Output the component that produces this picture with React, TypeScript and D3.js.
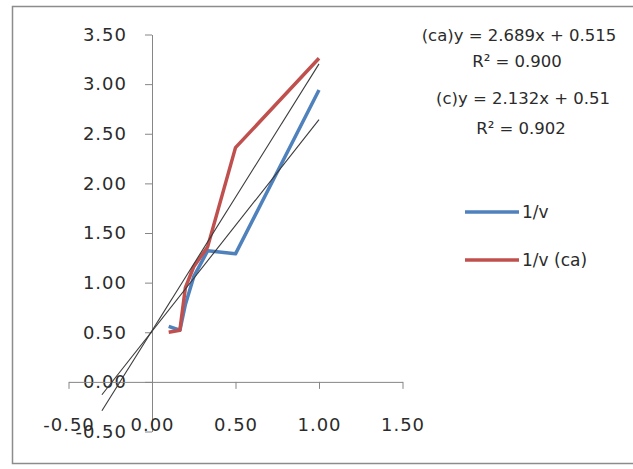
import React, { useEffect, useRef } from "react";
import * as d3 from "d3";

// 1/[S] values and the two reciprocal-rate series
const xValues = [0.1, 0.167, 0.2, 0.25, 0.333, 0.5, 1.0];
const blueValues = [0.56, 0.52, 0.78, 1.06, 1.32, 1.29, 2.94];
const redValues = [0.5, 0.52, 0.95, 1.16, 1.36, 2.36, 3.26];

const seriesNames = ["1/v", "1/v (ca)"];
const seriesColors = ["#4F81BD", "#C0504D"];

// linear trendlines (slope, intercept), drawn with backward forecast
const trendSlopes = [2.132, 2.689];
const trendIntercepts = [0.51, 0.515];
const trendRange = [-0.3, 1.0];

const equationLabels = [
  "(ca)y = 2.689x + 0.515",
  "R² = 0.900",
  "(c)y = 2.132x + 0.51",
  "R² = 0.902",
];

const xTicks = [-0.5, 0, 0.5, 1.0, 1.5];
const yTicks = [-0.5, 0, 0.5, 1.0, 1.5, 2.0, 2.5, 3.0, 3.5];

const W = 633;
const H = 469;

// Excel style number, plain hyphen for negatives
const fmt = (d: number) => d.toFixed(2);

export default function App() {
  const svgRef = useRef<SVGSVGElement>(null);

  useEffect(() => {
    const svg = d3.select(svgRef.current);
    svg.selectAll("*").remove();

    const font = "DejaVu Sans, sans-serif";

    // outer chart border
    svg
      .append("rect")
      .attr("x", 12.5)
      .attr("y", 6.5)
      .attr("width", 640)
      .attr("height", 457)
      .attr("fill", "white")
      .attr("stroke", "#8c8c8c")
      .attr("stroke-width", 1.5);

    const x = d3.scaleLinear().domain([-0.5, 1.5]).range([68.5, 402.5]);
    const y = d3.scaleLinear().domain([-0.5, 3.5]).range([431.5, 34.5]);

    // y axis (crosses at x = 0)
    const yAxis = svg
      .append("g")
      .attr("transform", `translate(${x(0)},0)`)
      .call(
        d3
          .axisLeft(y)
          .tickValues(yTicks)
          .tickSizeInner(7)
          .tickSizeOuter(0)
          .tickPadding(18)
          .tickFormat((d) => fmt(+d))
      );
    yAxis.select(".domain").attr("stroke", "#868686");
    yAxis.selectAll("line").attr("stroke", "#868686");
    yAxis
      .selectAll("text")
      .attr("fill", "#2b2b2b")
      .style("font-family", font)
      .style("font-size", "18px")
      .style("letter-spacing", "1px");

    // x axis (crosses at y = 0), labels placed low
    const xAxis = svg
      .append("g")
      .attr("transform", `translate(0,${y(0)})`)
      .call(
        d3
          .axisBottom(x)
          .tickValues(xTicks)
          .tickSizeInner(7)
          .tickSizeOuter(0)
          .tickPadding(29)
          .tickFormat((d) => fmt(+d))
      );
    xAxis.select(".domain").attr("stroke", "#868686");
    xAxis.selectAll("line").attr("stroke", "#868686");
    xAxis
      .selectAll("text")
      .attr("fill", "#2b2b2b")
      .style("font-family", font)
      .style("font-size", "18px")
      .style("letter-spacing", "1px");

    // series lines
    const line = d3
      .line<number>()
      .x((_, i) => x(xValues[i]))
      .y((d) => y(d));

    [blueValues, redValues].forEach((vals, i) => {
      svg
        .append("path")
        .datum(vals)
        .attr("d", line)
        .attr("fill", "none")
        .attr("stroke", seriesColors[i])
        .attr("stroke-width", 3.5)
        .attr("stroke-linejoin", "round");
    });

    // trendlines
    trendSlopes.forEach((m, i) => {
      const b = trendIntercepts[i];
      svg
        .append("line")
        .attr("x1", x(trendRange[0]))
        .attr("y1", y(m * trendRange[0] + b))
        .attr("x2", x(trendRange[1]))
        .attr("y2", y(m * trendRange[1] + b))
        .attr("stroke", "#3a3a3a")
        .attr("stroke-width", 1.1);
    });

    // trendline equations
    const eqY = [35, 61, 98, 128];
    const eqX = [519, 517, 523, 521];
    equationLabels.forEach((t, i) => {
      svg
        .append("text")
        .attr("x", eqX[i])
        .attr("y", eqY[i])
        .attr("dy", "0.35em")
        .attr("text-anchor", "middle")
        .attr("fill", "#2b2b2b")
        .style("font-family", font)
        .style("font-size", "16.5px")
        .text(t);
    });

    // legend
    const legend = svg.append("g").attr("transform", "translate(465,212)");
    seriesNames.forEach((name, i) => {
      const g = legend.append("g").attr("transform", `translate(0,${i * 48})`);
      g.append("line")
        .attr("x1", 0)
        .attr("x2", 54)
        .attr("stroke", seriesColors[i])
        .attr("stroke-width", 3.5);
      g.append("text")
        .attr("x", 57)
        .attr("dy", "0.35em")
        .attr("fill", "#2b2b2b")
        .style("font-family", font)
        .style("font-size", "17px")
        .text(name);
    });
  }, []);

  return (
    <svg
      ref={svgRef}
      width={W}
      height={H}
      style={{ position: "absolute", left: 0, top: 0, background: "white" }}
    />
  );
}
